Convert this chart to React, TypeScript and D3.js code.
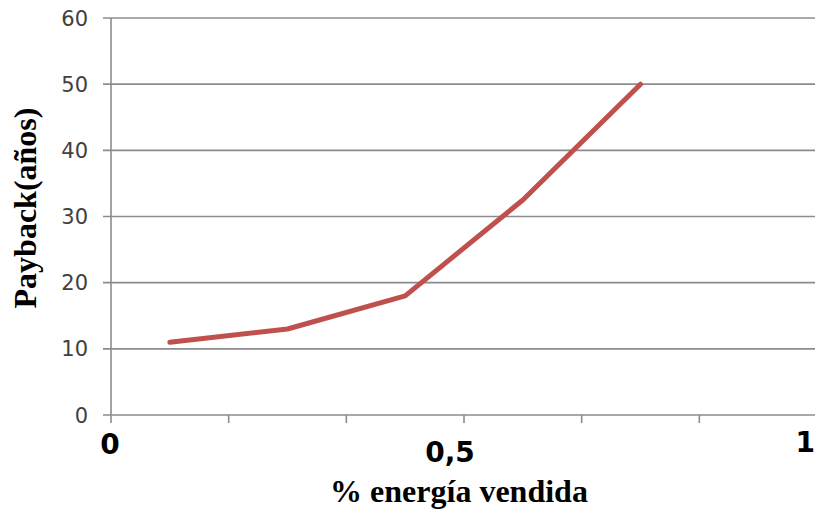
import React from "react";
import * as d3 from "d3";

const categories = ["c1", "c2", "c3", "c4", "c5", "c6"];
const payback = [11, 13, 18, 32.5, 50];
const yTicks = [0, 10, 20, 30, 40, 50, 60];
const xLabels = [
  { text: "0", cat: 0, anchor: "middle", dx: -1, dy: 39 },
  { text: "0,5", cat: 3, anchor: "middle", dx: -14, dy: 47 },
  { text: "1", cat: 6, anchor: "end", dx: -2, dy: 37 },
];

const W = 815;
const H = 517;
const left = 111;
const right = 817;
const top = 18;
const bottom = 415;

export default function App() {
  const x = d3.scaleBand<string>().domain(categories).range([left, right]).padding(0);
  const y = d3.scaleLinear().domain([0, 60]).range([bottom, top]);
  const step = x.step();
  const boundary = (i: number) => left + i * step;

  const line = d3
    .line<number>()
    .x((_, i) => (x(categories[i]) as number) + step / 2)
    .y((d) => y(d));

  const gridColor = "#8c8c8c";

  return (
    <svg
      width={W}
      height={H}
      style={{ position: "absolute", left: 0, top: 0, background: "#fff", display: "block" }}
    >
      {yTicks.map((t) => (
        <g key={t}>
          <line x1={103} x2={W} y1={y(t)} y2={y(t)} stroke={gridColor} strokeWidth={1.6} />
          <text
            x={88}
            y={y(t)}
            dy="0.36em"
            textAnchor="end"
            fontFamily="DejaVu Sans, Verdana, sans-serif"
            fontSize={21}
            fill="#404040"
          >
            {t}
          </text>
        </g>
      ))}
      <line x1={left} x2={left} y1={top} y2={bottom + 8} stroke={gridColor} strokeWidth={1.6} />
      {d3.range(1, categories.length).map((i) => (
        <line
          key={i}
          x1={boundary(i)}
          x2={boundary(i)}
          y1={bottom}
          y2={bottom + 8}
          stroke={gridColor}
          strokeWidth={1.6}
        />
      ))}
      <path
        d={line(payback) as string}
        fill="none"
        stroke="#c0504d"
        strokeWidth={5}
        strokeLinejoin="round"
        strokeLinecap="round"
      />
      {xLabels.map((l) => (
        <text
          key={l.text}
          x={boundary(l.cat) + l.dx}
          y={bottom + l.dy}
          textAnchor={l.anchor as any}
          fontFamily="DejaVu Sans, Verdana, sans-serif"
          fontWeight="bold"
          fontSize={28}
          fill="#000"
        >
          {l.text}
        </text>
      ))}
      <text
        x={459}
        y={502}
        textAnchor="middle"
        fontFamily="Liberation Serif, Times New Roman, serif"
        fontWeight="bold"
        fontSize={32}
        fill="#000"
      >
        % energía vendida
      </text>
      <text
        transform={`translate(36, 208) rotate(-90)`}
        textAnchor="middle"
        fontFamily="Liberation Serif, Times New Roman, serif"
        fontWeight="bold"
        fontSize={32}
        fill="#000"
      >
        Payback(años)
      </text>
    </svg>
  );
}
